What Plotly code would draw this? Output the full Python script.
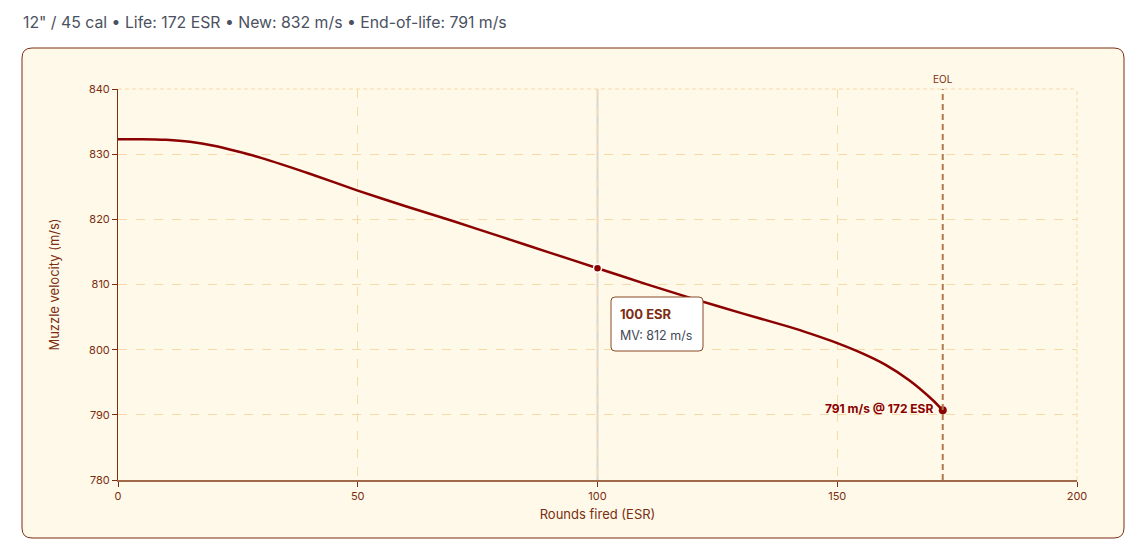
import plotly.graph_objects as go

# barrel wear curve: rounds fired (ESR) vs muzzle velocity (m/s)
esr = [0, 5, 10, 15, 20, 25, 30, 40, 50, 60, 70, 80, 90, 100,
       110, 120, 130, 140, 145, 150, 155, 160, 165, 170, 172]
mv = [832.3, 832.3, 832.2, 831.9, 831.3, 830.4, 829.4, 827.0, 824.4, 822.0,
      819.7, 817.3, 814.9, 812.5, 810.1, 807.8, 805.6, 803.5, 802.3, 801.0,
      799.5, 797.7, 795.3, 792.2, 790.7]

hover_esr = 100
hover_mv = 812.5
eol_esr = 172
eol_mv = 790.7

title_text = '12" / 45 cal • Life: 172 ESR • New: 832 m/s • End-of-life: 791 m/s'

BROWN = '#7c2d12'
RED = '#8b0000'
GRID = '#f8d9a8'
CREAM = '#fef9e8'

# page body adds an 8px margin, so work in page pixels and shift
OFF = 8
W, H = 1145 - OFF, 551 - OFF
ML, MR, MT, MB = 118 - OFF, 68, 89 - OFF, 71
pw, ph = W - ML - MR, H - MT - MB


def px_x(p):
    return (p - OFF - ML) / pw


def px_y(p):
    return (H - MB - (p - OFF)) / ph


def rounded(xa, ya, xb, yb, r):
    # xa..xb, ya..yb in page pixels (ya top)
    x0, x1 = px_x(xa), px_x(xb)
    y1, y0 = px_y(ya), px_y(yb)
    rx, ry = r / pw, r / ph
    return (f'M {x0+rx},{y1} L {x1-rx},{y1} Q {x1},{y1} {x1},{y1-ry} '
            f'L {x1},{y0+ry} Q {x1},{y0} {x1-rx},{y0} '
            f'L {x0+rx},{y0} Q {x0},{y0} {x0},{y0+ry} '
            f'L {x0},{y1-ry} Q {x0},{y1} {x0+rx},{y1} Z')


def main():
    fig = go.Figure()

    fig.add_trace(go.Scatter(
        x=esr, y=mv, mode='lines',
        line=dict(color=RED, width=2.5, shape='spline', smoothing=0.5),
        hoverinfo='skip', showlegend=False,
    ))
    fig.add_trace(go.Scatter(
        x=[hover_esr], y=[hover_mv], mode='markers',
        marker=dict(color=RED, size=8, line=dict(color='white', width=1.5)),
        hoverinfo='skip', showlegend=False,
    ))
    fig.add_trace(go.Scatter(
        x=[eol_esr], y=[eol_mv], mode='markers+text',
        marker=dict(color=RED, size=8),
        text=['<b>791 m/s @ 172 ESR</b> '], textposition='middle left',
        textfont=dict(color=RED, size=12),
        hoverinfo='skip', showlegend=False,
    ))

    # panel with rounded corners
    fig.add_shape(type='path', path=rounded(22, 48, 1124, 538, 10),
                  xref='paper', yref='paper',
                  fillcolor=CREAM, line=dict(color=BROWN, width=1), layer='below')

    # edge grid lines (top and right)
    fig.add_shape(type='line', x0=0, x1=1, y0=1, y1=1, xref='paper', yref='paper',
                  line=dict(color=GRID, width=1, dash='4px,3px'), layer='below')
    fig.add_shape(type='line', x0=1, x1=1, y0=0, y1=1, xref='paper', yref='paper',
                  line=dict(color=GRID, width=1, dash='4px,3px'), layer='below')

    # hover guide and EOL line
    fig.add_shape(type='line', x0=hover_esr, x1=hover_esr, y0=0, y1=1,
                  xref='x', yref='paper', line=dict(color='#d9d6cf', width=2), layer='below')
    fig.add_shape(type='line', x0=eol_esr, x1=eol_esr, y0=0, y1=1,
                  xref='x', yref='paper', line=dict(color='#b07a4c', width=2, dash='6px,4px'))

    fig.add_annotation(x=eol_esr, y=1, xref='x', yref='paper', text='EOL',
                       showarrow=False, yanchor='bottom', yshift=2,
                       font=dict(color=BROWN, size=10))

    # tooltip
    fig.add_shape(type='path', path=rounded(611, 297, 703, 351, 4),
                  xref='paper', yref='paper',
                  fillcolor='white', line=dict(color='#8a4a22', width=1))
    fig.add_annotation(x=px_x(618), y=px_y(314), xref='paper', yref='paper',
                       xanchor='left', yanchor='middle', showarrow=False,
                       text=f'<b>{hover_esr} ESR</b>',
                       font=dict(color=BROWN, size=13))
    fig.add_annotation(x=px_x(618), y=px_y(335), xref='paper', yref='paper',
                       xanchor='left', yanchor='middle', showarrow=False,
                       text='MV: 812 m/s',
                       font=dict(color='#444a55', size=12.5))

    fig.add_annotation(x=px_x(21), y=px_y(22), xref='paper', yref='paper',
                       xanchor='left', yanchor='middle', showarrow=False,
                       text=title_text, font=dict(color='#4b5160', size=15.8))

    fig.update_xaxes(
        range=[0, 200], tickvals=[0, 50, 100, 150, 200],
        showgrid=True, gridcolor=GRID, griddash='dash', gridwidth=1,
        zeroline=False, showline=True, linecolor='#a06a4a', linewidth=1.5,
        ticks='outside', ticklen=5, tickcolor=BROWN,
        tickfont=dict(color=BROWN, size=11),
        title=dict(text='Rounds fired (ESR)', font=dict(color=BROWN, size=13), standoff=8),
    )
    fig.update_yaxes(
        range=[780, 840], tickvals=[780, 790, 800, 810, 820, 830, 840],
        showgrid=True, gridcolor=GRID, griddash='dash', gridwidth=1,
        zeroline=False, showline=True, linecolor=BROWN, linewidth=1,
        ticks='outside', ticklen=5, tickcolor=BROWN,
        tickfont=dict(color=BROWN, size=11),
        title=dict(text='Muzzle velocity (m/s)', font=dict(color=BROWN, size=13), standoff=26),
    )

    fig.update_layout(
        width=W, height=H,
        margin=dict(l=ML, r=MR, t=MT, b=MB),
        paper_bgcolor='white', plot_bgcolor='rgba(0,0,0,0)',
        font_family='Inter',
        showlegend=False,
    )
    fig.write_html('out.html')


if __name__ == '__main__':
    main()
